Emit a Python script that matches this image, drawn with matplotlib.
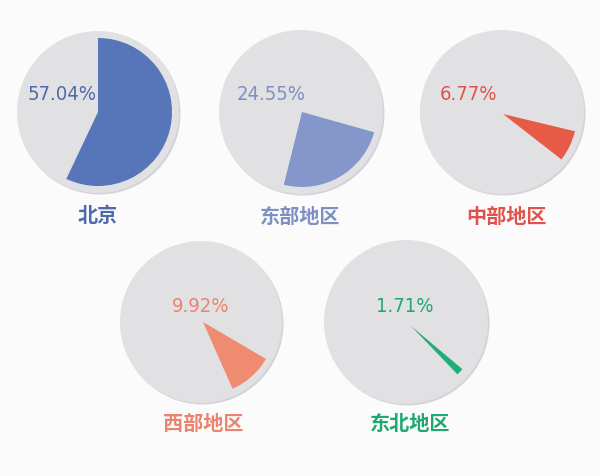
import matplotlib.pyplot as plt

plt.rcParams['font.family'] = ['DejaVu Sans']

regions = ['北京', '东部地区', '中部地区', '西部地区', '东北地区']
shares = [57.04, 24.55, 6.77, 9.92, 1.71]
pct_labels = ['57.04%', '24.55%', '6.77%', '9.92%', '1.71%']
colors = ['#5676b9', '#8596cb', '#e85a48', '#ef8b71', '#22ad77']
text_colors = ['#4e6aab', '#7e8fc2', '#e0534a', '#ea846e', '#1fa774']

# layout in pixels (x, y from top)
circle_xy = [(98, 113), (301, 113), (502, 113), (201, 323), (406, 323)]
circle_r = [81, 82, 82, 81, 82]
apex_xy = [(98, 113), (302, 113), (503, 115), (203, 323), (411, 327)]
wedge_r = [74, 75, 74, 73, 67]
start_cw = [0, 105.7, 103.5, 120.4, 130.0]  # degrees clockwise from 12 o'clock
pct_xy = [(62, 95), (271, 95), (468, 95), (201, 307), (405, 307)]
name_xy = [(98, 216), (300, 216), (506, 216), (203, 423), (410, 423)]

W, H = 600, 477
fig = plt.figure(figsize=(6, 4.77), dpi=100)
fig.patch.set_facecolor('#fbfbfb')
ax = fig.add_axes([0, 0, 1, 1])

for i in range(len(regions)):
    cx, cy = circle_xy[i]
    r = circle_r[i]
    # soft shadow + gray disc
    ax.pie([1], colors=['#d4d4d8'], radius=r, center=(cx + 1.5, H - cy - 1.5),
           wedgeprops=dict(linewidth=0))
    ax.pie([1], colors=['#e1e1e4'], radius=r, center=(cx, H - cy),
           wedgeprops=dict(linewidth=0))
    ax_, ay_ = apex_xy[i]
    ax.pie([shares[i], 100 - shares[i]], colors=[colors[i], 'none'],
           radius=wedge_r[i], center=(ax_, H - ay_),
           startangle=90 - start_cw[i], counterclock=False,
           wedgeprops=dict(linewidth=0))
    px, py = pct_xy[i]
    ax.text(px, H - py, pct_labels[i], color=text_colors[i], fontsize=14.5,
            fontstretch='condensed', ha='center', va='center')
    nx, ny = name_xy[i]
    ax.text(nx, H - ny, regions[i], color=text_colors[i], fontsize=14.5,
            ha='center', va='center', fontweight='bold',
            family=['Noto Sans CJK SC', 'DejaVu Sans'])

ax.set_xlim(0, W)
ax.set_ylim(0, H)
ax.set_aspect('equal')
ax.axis('off')

fig.savefig('out.png', dpi=100, facecolor=fig.get_facecolor())
